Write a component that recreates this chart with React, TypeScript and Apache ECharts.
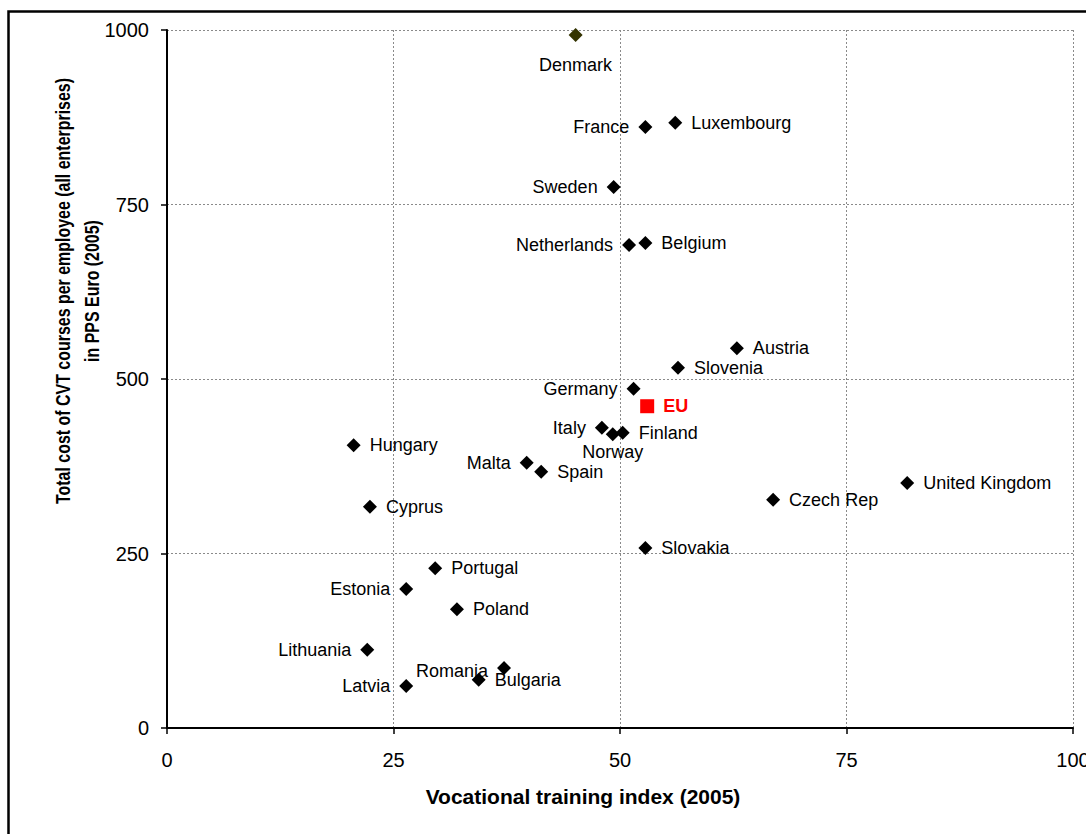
import React, { useEffect, useRef } from "react";
import * as echarts from "echarts";

const countries = [
  "Denmark", "France", "Luxembourg", "Sweden", "Netherlands", "Belgium",
  "Austria", "Slovenia", "Germany", "Italy", "Norway", "Finland",
  "Hungary", "Malta", "Spain", "Cyprus", "United Kingdom", "Czech Rep",
  "Slovakia", "Portugal", "Estonia", "Poland", "Lithuania", "Romania",
  "Bulgaria", "Latvia",
];
const trainingIndex = [
  45.1, 52.8, 56.1, 49.3, 51.0, 52.8,
  62.9, 56.4, 51.5, 48.0, 49.2, 50.3,
  20.6, 39.7, 41.3, 22.4, 81.7, 66.9,
  52.8, 29.6, 26.4, 32.0, 22.1, 37.2,
  34.4, 26.4,
];
const costPerEmployee = [
  993, 861, 867, 775, 692, 695,
  544, 516, 486, 430, 421, 423,
  405, 380, 367, 317, 351, 327,
  258, 229, 199, 170, 112, 86,
  69, 60,
];
const euName = "EU";
const euIndex = 53.0;
const euCost = 461;

const xTicks = [0, 25, 50, 75, 100];
const yTicks = [0, 250, 500, 750, 1000];

const xTitle = "Vocational training index (2005)";
const yTitle = "Total cost of CVT courses per employee (all enterprises)\nin PPS Euro (2005)";

// label placement (style)
const labelLeft = new Set([
  "France", "Sweden", "Netherlands", "Germany", "Italy", "Malta",
  "Estonia", "Lithuania", "Romania", "Latvia",
]);
const labelBottom: Record<string, number> = { Denmark: 14, Norway: 2 };
const labelOffset: Record<string, [number, number]> = { Romania: [0, 3] };

const FONT = '"Liberation Sans", Arial, Helvetica, sans-serif';

export default function App() {
  const ref = useRef<HTMLDivElement>(null);

  useEffect(() => {
    if (!ref.current) return;
    const chart = echarts.init(ref.current, null, { renderer: "svg" });

    const data = countries.map((name, i) => {
      const bottom = labelBottom[name];
      const left = labelLeft.has(name);
      return {
        name,
        value: [trainingIndex[i], costPerEmployee[i]],
        itemStyle: { color: name === "Denmark" ? "#333300" : "#000000", opacity: 1 },
        label: {
          show: true,
          position: bottom !== undefined ? "bottom" : left ? "left" : "right",
          distance: bottom !== undefined ? bottom : 9,
          offset: labelOffset[name] || [0, 0],
        },
      };
    });

    chart.setOption({
      animation: false,
      backgroundColor: "#ffffff",
      grid: {
        left: 167, top: 30, width: 906, height: 698,
        containLabel: false, outerBoundsMode: "none",
      },
      xAxis: {
        type: "value",
        min: xTicks[0],
        max: xTicks[xTicks.length - 1],
        interval: 25,
        axisLine: { show: true, lineStyle: { color: "#000", width: 2 } },
        axisTick: { show: true, inside: false, length: 6, lineStyle: { color: "#000", width: 1.5 } },
        axisLabel: {
          color: "#000", fontSize: 20, fontFamily: FONT, margin: 22,
          formatter: (v: number) => String(v),
        },
        splitLine: { show: true, lineStyle: { color: "#8a8a8a", width: 1, type: [2, 2] } },
      },
      yAxis: {
        type: "value",
        min: yTicks[0],
        max: yTicks[yTicks.length - 1],
        interval: 250,
        axisLine: { show: true, lineStyle: { color: "#000", width: 2 } },
        axisTick: { show: true, inside: false, length: 6, lineStyle: { color: "#000", width: 1.5 } },
        axisLabel: {
          color: "#000", fontSize: 20, fontFamily: FONT, margin: 18,
          formatter: (v: number) => String(v),
        },
        splitLine: { show: true, lineStyle: { color: "#8a8a8a", width: 1, type: [2, 2] } },
      },
      graphic: [
        {
          type: "rect",
          shape: { x: 8.5, y: 11.5, width: 1200, height: 1000 },
          style: { fill: "none", stroke: "#000", lineWidth: 2.5 },
          silent: true,
        },
        {
          type: "text",
          x: 583,
          y: 796,
          style: {
            text: xTitle,
            font: `bold 21px ${FONT}`,
            fill: "#000",
            align: "center",
            verticalAlign: "middle",
            textAlign: "center",
            textVerticalAlign: "middle",
          },
        },
        {
          type: "text",
          x: 77.5,
          y: 291,
          rotation: Math.PI / 2,
          scaleX: 0.76,
          style: {
            text: yTitle,
            font: `bold 21px ${FONT}`,
            fill: "#000",
            lineHeight: 29,
            align: "center",
            verticalAlign: "middle",
            textAlign: "center",
            textVerticalAlign: "middle",
          },
        },
      ],
      series: [
        {
          type: "scatter",
          symbol: "diamond",
          symbolSize: 14,
          data,
          itemStyle: { opacity: 1 },
          label: {
            show: true,
            formatter: (p: any) => p.name,
            color: "#000",
            fontSize: 18,
            fontFamily: FONT,
          },
          z: 3,
        },
        {
          type: "scatter",
          symbol: "rect",
          symbolSize: 14,
          data: [{ name: euName, value: [euIndex, euCost] }],
          itemStyle: { color: "#ff0000", opacity: 1 },
          label: {
            show: true,
            position: "right",
            distance: 9,
            formatter: (p: any) => p.name,
            color: "#ff0000",
            fontWeight: "bold",
            fontSize: 18,
            fontFamily: FONT,
          },
          z: 4,
        },
      ],
    });

    return () => chart.dispose();
  }, []);

  return (
    <div
      ref={ref}
      style={{ position: "absolute", left: 0, top: 0, width: 1086, height: 834 }}
    />
  );
}
